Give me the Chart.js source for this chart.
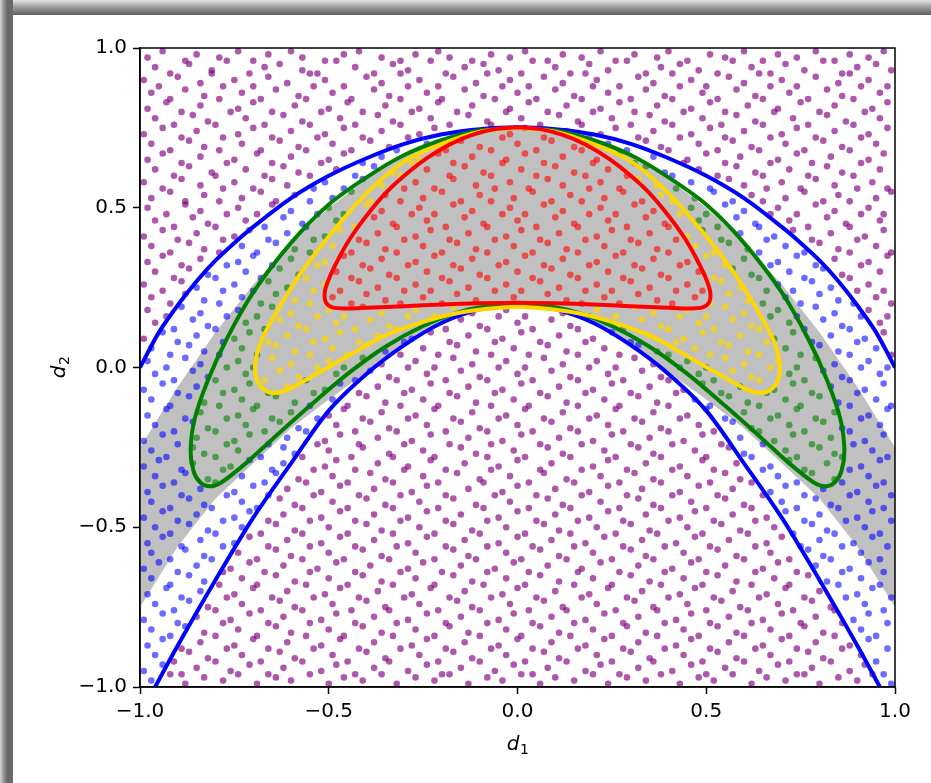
<!DOCTYPE html>
<html>
<head>
<meta charset="utf-8">
<script src="https://cdn.jsdelivr.net/npm/chart.js@4.4.0/dist/chart.umd.min.js"></script>
<style>
  html, body { margin: 0; padding: 0; background: #fff; }
  #frame { position: relative; width: 931px; height: 783px; overflow: hidden; background: #fff; }
  .edgeTop { position: absolute; left: 0; top: 0; width: 931px; height: 15px;
             background: linear-gradient(to bottom, #e4e4e4, #a0a0a0 45%, #5e5e5e); }
  .edgeLeft { position: absolute; left: 0; top: 0; width: 13px; height: 783px;
              background: linear-gradient(to right, #d4d4d4, #8a8a8a 35%, #666 60%, #6a6a6a); }
  #chart { position: absolute; left: 0; top: 0; }
</style>
</head>
<body>
<div id="frame">
  <div class="edgeTop"></div>
  <div class="edgeLeft"></div>
  <canvas id="chart" width="931" height="783"></canvas>
</div>
<script>
// axis ticks and titles (base letter + subscript)
const xTicks = [-1, -0.5, 0, 0.5, 1];
const yTicks = [-1, -0.5, 0, 0.5, 1];
const xTitle = ['d', '1'];
const yTitle = ['d', '2'];

// outer blue boundaries (upper and lower)
const blueUpper = [[-1,0],[-0.95,0.11],[-0.9,0.195],[-0.85,0.27],[-0.8,0.335],[-0.75,0.39],[-0.7,0.44],[-0.6,0.53],[-0.5,0.6],[-0.4,0.655],[-0.3,0.7],[-0.2,0.73],[-0.1,0.746],[0,0.752],
  [0.1,0.746],[0.2,0.73],[0.3,0.7],[0.4,0.655],[0.5,0.6],[0.6,0.53],[0.7,0.44],[0.75,0.39],[0.8,0.335],[0.85,0.27],[0.9,0.195],[0.95,0.11],[1,0]];
const blueLower = [[-1,-1.09],[-0.96,-1],[-0.9,-0.87],[-0.8,-0.665],[-0.7,-0.47],[-0.6,-0.3],[-0.5,-0.135],[-0.4,-0.02],[-0.3,0.07],[-0.2,0.14],[-0.1,0.182],[0,0.198],
  [0.1,0.182],[0.2,0.14],[0.3,0.07],[0.4,-0.02],[0.5,-0.135],[0.6,-0.3],[0.7,-0.47],[0.8,-0.665],[0.9,-0.87],[0.96,-1],[1,-1.09]];

// closed contours
const greenLoop = [[0,0.75],[0.1,0.742],[0.2,0.712],[0.3,0.665],[0.4,0.595],[0.5,0.51],[0.6,0.39],[0.7,0.235],[0.77,0.09],[0.82,-0.04],[0.855,-0.16],[0.866,-0.26],[0.858,-0.325],[0.84,-0.36],[0.815,-0.372],[0.785,-0.36],[0.72,-0.3],[0.65,-0.225],[0.55,-0.12],[0.45,-0.02],[0.35,0.065],[0.25,0.13],[0.15,0.175],[0.05,0.197],[0,0.2],
  [-0.05,0.197],[-0.15,0.175],[-0.25,0.13],[-0.35,0.065],[-0.45,-0.02],[-0.55,-0.12],[-0.65,-0.225],[-0.72,-0.3],[-0.785,-0.36],[-0.815,-0.372],[-0.84,-0.36],[-0.858,-0.325],[-0.866,-0.26],[-0.855,-0.16],[-0.82,-0.04],[-0.77,0.09],[-0.7,0.235],[-0.6,0.39],[-0.5,0.51],[-0.4,0.595],[-0.3,0.665],[-0.2,0.712],[-0.1,0.742],[0,0.75]];
const yellowLoop = [[0,0.75],[0.1,0.738],[0.2,0.7],[0.3,0.645],[0.4,0.545],[0.5,0.41],[0.58,0.285],[0.64,0.17],[0.68,0.08],[0.695,0.01],[0.69,-0.04],[0.67,-0.07],[0.645,-0.08],[0.61,-0.07],[0.54,-0.025],[0.45,0.035],[0.36,0.095],[0.27,0.135],[0.18,0.165],[0.09,0.182],[0,0.19],
  [-0.09,0.182],[-0.18,0.165],[-0.27,0.135],[-0.36,0.095],[-0.45,0.035],[-0.54,-0.025],[-0.61,-0.07],[-0.645,-0.08],[-0.67,-0.07],[-0.69,-0.04],[-0.695,0.01],[-0.68,0.08],[-0.64,0.17],[-0.58,0.285],[-0.5,0.41],[-0.4,0.545],[-0.3,0.645],[-0.2,0.7],[-0.1,0.738],[0,0.75]];
const redLoop = [[0,0.752],[0.06,0.746],[0.12,0.728],[0.18,0.698],[0.24,0.655],[0.3,0.6],[0.35,0.545],[0.4,0.475],[0.44,0.41],[0.47,0.35],[0.495,0.29],[0.51,0.24],[0.508,0.205],[0.49,0.188],[0.45,0.185],[0.4,0.187],[0.3,0.192],[0.2,0.197],[0.1,0.201],[0,0.203],
  [-0.1,0.201],[-0.2,0.197],[-0.3,0.192],[-0.4,0.187],[-0.45,0.185],[-0.49,0.188],[-0.508,0.205],[-0.51,0.24],[-0.495,0.29],[-0.47,0.35],[-0.44,0.41],[-0.4,0.475],[-0.35,0.545],[-0.3,0.6],[-0.24,0.655],[-0.18,0.698],[-0.12,0.728],[-0.06,0.746],[0,0.752]];

// shaded band (upper edge left to right, lower edge right to left)
const grayBand = [[-1,-0.25],[-0.9,-0.06],[-0.8,0.11],[-0.7,0.26],[-0.6,0.39],[-0.5,0.5],[-0.4,0.59],[-0.3,0.66],[-0.2,0.71],[-0.1,0.74],[0,0.75],[0.1,0.74],[0.2,0.71],[0.3,0.66],[0.4,0.59],[0.5,0.5],[0.6,0.39],[0.7,0.26],[0.8,0.11],[0.9,-0.06],[1,-0.25],
  [1,-0.75],[0.9,-0.56],[0.8,-0.41],[0.7,-0.3],[0.6,-0.19],[0.5,-0.1],[0.4,-0.015],[0.3,0.075],[0.2,0.14],[0.1,0.18],[0,0.198],[-0.1,0.18],[-0.2,0.14],[-0.3,0.075],[-0.4,-0.015],[-0.5,-0.1],[-0.6,-0.19],[-0.7,-0.3],[-0.8,-0.41],[-0.9,-0.56],[-1,-0.75]];

// sample points, x,y pairs in hundredths
const samplePts = [
-98,97,-94,99,-88,96,-85,98,-79,97,-74,99,-70,96,-66,98,-60,99,-57,97,-51,96,-46,98,-42,99,-36,97,-31,96,-27,98,-21,99,-18,97,-12,96,-7,98,-2,97,2,99,8,96,12,98,17,97,22,99,26,96,31,98,37,97,40,99,45,96,51,98,55,97,60,99,65,96,69,98,74,97,79,99,84,96,88,98,93,97,97,99,
-96,94,-92,92,-87,95,-81,93,-77,96,-71,92,-67,94,-63,95,-57,93,-53,92,-48,96,-43,94,-38,92,-33,95,-29,93,-23,96,-19,92,-14,94,-9,95,-5,93,1,92,4,96,10,94,14,92,19,95,24,93,29,96,34,92,38,94,43,95,48,93,53,92,57,96,62,94,67,92,71,95,76,93,81,96,86,92,90,94,95,95,99,93,
-99,90,-95,88,-90,91,-84,89,-81,92,-75,90,-70,88,-66,91,-61,89,-55,92,-51,90,-46,88,-40,91,-36,89,-31,92,-26,90,-21,88,-17,91,-11,89,-8,92,-2,90,3,88,7,91,12,89,18,92,21,90,27,88,32,91,36,89,41,92,46,90,50,88,56,91,60,89,64,92,70,90,74,88,79,91,85,89,88,92,93,90,98,88,
-97,86,-92,84,-88,87,-83,85,-78,88,-73,86,-68,84,-64,87,-58,85,-54,88,-49,86,-44,84,-38,87,-34,85,-29,88,-24,86,-20,84,-14,87,-9,85,-4,88,0,86,5,84,10,87,15,85,20,88,24,86,30,84,34,87,39,85,43,88,49,86,53,84,58,87,63,85,67,88,72,86,77,84,82,87,86,85,91,88,96,86,
-98,81,-93,83,-89,80,-84,82,-79,84,-74,81,-70,83,-65,80,-59,82,-56,84,-50,81,-45,83,-41,80,-35,82,-31,84,-26,81,-21,83,-16,80,-12,82,-6,84,-2,81,3,83,8,80,13,82,17,84,22,81,27,83,31,80,37,82,41,84,46,81,51,83,55,80,61,82,65,84,69,81,75,83,80,80,84,82,89,84,94,81,98,83,
-96,78,-91,76,-86,79,-82,77,-76,80,-72,78,-67,76,-62,79,-57,77,-52,80,-47,78,-43,76,-37,79,-33,77,-28,80,-23,78,-18,76,-13,79,-8,77,-3,80,1,78,6,76,11,79,16,77,20,80,25,78,30,76,35,79,39,77,44,80,49,78,54,76,58,79,63,77,68,80,73,78,77,76,82,79,87,77,92,80,96,78,
-99,73,-94,75,-89,72,-85,74,-80,76,-74,73,-70,75,-65,72,-60,74,-55,76,-51,73,-46,75,-41,72,-36,74,-31,76,-26,73,-22,75,-16,72,-12,74,-7,76,-2,73,2,75,7,72,13,74,17,76,22,73,26,75,32,72,36,74,41,76,46,73,51,75,55,72,60,74,65,76,70,73,74,75,79,72,84,74,89,76,93,73,98,75,
-97,70,-92,68,-87,71,-83,69,-78,72,-73,70,-68,68,-63,71,-58,69,-53,72,-49,70,-44,68,-39,71,-34,69,-29,72,-24,70,-19,68,-15,71,-10,69,-4,72,0,70,5,68,9,71,15,69,19,72,24,70,29,68,34,71,38,69,43,72,48,70,53,68,57,71,62,69,67,72,71,70,76,68,81,71,86,69,91,72,95,70,
-98,65,-94,67,-89,64,-84,66,-79,68,-75,65,-69,67,-65,64,-60,66,-56,68,-50,65,-46,67,-41,64,-36,66,-32,68,-26,65,-21,67,-17,64,-12,66,-7,68,-3,65,2,67,7,64,12,66,17,68,21,65,27,67,31,64,36,66,40,68,45,65,50,67,55,64,59,66,64,68,69,65,74,67,78,64,83,66,88,68,93,65,97,67,
-96,62,-91,60,-87,63,-81,61,-77,64,-72,62,-67,60,-62,63,-58,61,-52,64,-48,62,-43,60,-38,63,-33,61,-28,64,-24,62,-18,60,-14,63,-9,61,-4,64,1,62,5,60,10,63,15,61,20,64,24,62,29,60,34,63,39,61,44,64,48,62,53,60,58,63,63,61,67,64,72,62,77,60,82,63,86,61,91,64,96,62,
-99,58,-94,56,-89,59,-84,57,-80,60,-75,58,-70,56,-65,59,-61,57,-55,60,-51,58,-46,56,-41,59,-36,57,-31,60,-27,58,-22,56,-17,59,-11,57,-7,60,-2,58,3,56,8,59,12,57,18,60,22,58,27,56,32,59,37,57,41,60,46,58,51,56,56,59,60,57,65,60,70,58,75,56,79,59,84,57,89,60,94,58,98,56,
-97,53,-92,55,-88,52,-83,54,-78,56,-73,53,-68,55,-64,52,-59,54,-54,56,-49,53,-44,55,-39,52,-35,54,-30,56,-25,53,-20,55,-15,52,-10,54,-6,56,-1,53,4,55,9,52,14,54,19,56,23,53,28,55,33,52,38,54,42,56,47,53,52,55,57,52,62,54,66,56,71,53,76,55,81,52,85,54,90,56,95,53,99,55,
-98,50,-93,48,-88,51,-84,49,-79,52,-74,50,-69,48,-65,51,-60,49,-55,52,-50,50,-46,48,-40,51,-36,49,-31,52,-26,50,-22,48,-17,51,-12,49,-7,52,-2,50,2,48,7,51,12,49,17,52,22,50,26,48,31,51,36,49,41,52,46,50,50,48,55,51,60,49,65,52,69,50,74,48,79,51,84,49,88,52,93,50,97,48,
-96,46,-91,44,-86,47,-82,45,-77,48,-72,46,-67,44,-62,47,-57,45,-53,48,-48,46,-43,44,-38,47,-33,45,-28,48,-24,46,-19,44,-14,47,-9,45,-4,48,0,46,5,44,10,47,15,45,19,48,24,46,29,44,34,47,39,45,43,48,48,46,53,44,58,47,63,45,67,48,72,46,77,44,82,47,87,45,91,48,96,46,
-99,41,-94,43,-90,40,-85,42,-80,44,-75,41,-71,43,-66,40,-61,42,-56,44,-51,41,-47,43,-42,40,-37,42,-32,44,-27,41,-23,43,-18,40,-13,42,-8,44,-3,41,1,43,6,40,11,42,16,44,21,41,25,43,30,40,35,42,40,44,45,41,49,43,54,40,59,42,64,44,68,41,73,43,78,40,83,42,88,44,92,41,97,43,
-97,38,-92,36,-87,39,-83,37,-78,40,-73,38,-69,36,-64,39,-59,37,-54,40,-49,38,-44,36,-40,39,-35,37,-30,40,-25,38,-20,36,-16,39,-11,37,-6,40,-1,38,4,36,8,39,13,37,18,40,23,38,28,36,32,39,37,37,42,40,47,38,52,36,56,39,61,37,66,40,71,38,76,36,80,39,85,37,90,40,95,38,99,36,
-98,33,-94,35,-89,32,-84,34,-79,36,-74,33,-70,35,-65,32,-60,34,-55,36,-51,33,-46,35,-41,32,-36,34,-32,36,-27,33,-22,35,-17,32,-12,34,-8,36,-3,33,2,35,7,32,12,34,16,36,21,33,26,35,31,32,36,34,40,36,45,33,50,35,55,32,60,34,64,36,69,33,74,35,79,32,84,34,88,36,93,33,98,35,
-96,30,-91,28,-87,31,-82,29,-77,32,-72,30,-68,28,-63,31,-58,29,-53,32,-48,30,-44,28,-39,31,-34,29,-29,32,-24,30,-20,28,-15,31,-10,29,-5,32,0,30,4,28,9,31,14,29,19,32,24,30,28,28,33,31,38,29,43,32,48,30,52,28,57,31,62,29,67,32,72,30,76,28,81,31,86,29,91,32,96,30,
-99,26,-94,24,-89,27,-85,25,-80,28,-75,26,-70,24,-66,27,-61,25,-56,28,-51,26,-47,24,-42,27,-37,25,-32,28,-27,26,-23,24,-18,27,-13,25,-8,28,-3,26,1,24,6,27,11,25,16,28,21,26,25,24,30,27,35,25,40,28,45,26,49,24,54,27,59,25,64,28,69,26,73,24,78,27,83,25,88,28,93,26,97,24,
-97,22,-92,20,-88,23,-83,21,-78,24,-73,22,-68,20,-64,23,-59,21,-54,24,-49,22,-44,20,-40,23,-35,21,-30,24,-25,22,-20,20,-16,23,-11,21,-6,24,-1,22,3,20,8,23,13,21,18,24,23,22,27,20,32,23,37,21,42,24,47,22,51,20,56,23,61,21,66,24,71,22,75,20,80,23,85,21,90,24,95,22,99,20,
-98,18,-93,16,-89,19,-84,17,-79,20,-74,18,-69,16,-65,19,-60,17,-55,20,-50,18,-46,16,-41,19,-36,17,-31,20,-27,18,-22,16,-17,19,-12,17,-7,20,-3,18,2,16,7,19,12,17,17,20,21,18,26,16,31,19,36,17,41,20,45,18,50,16,55,19,60,17,65,20,69,18,74,16,79,19,84,17,89,20,93,18,98,16,
-96,14,-91,12,-86,15,-82,13,-77,16,-72,14,-67,12,-63,15,-58,13,-53,16,-48,14,-43,12,-39,15,-34,13,-29,16,-24,14,-19,12,-15,15,-10,13,-5,16,0,14,4,12,9,15,14,13,19,16,24,14,28,12,33,15,38,13,43,16,48,14,52,12,57,15,62,13,67,16,72,14,76,12,81,15,86,13,91,16,96,14,
-99,9,-94,11,-90,8,-85,10,-80,12,-75,9,-71,11,-66,8,-61,10,-56,12,-51,9,-47,11,-42,8,-37,10,-32,12,-28,9,-23,11,-18,8,-13,10,-8,12,-4,9,1,11,6,8,11,10,16,12,20,9,25,11,30,8,35,10,40,12,44,9,49,11,54,8,59,10,64,12,68,9,73,11,78,8,83,10,88,12,92,9,97,11,
-97,6,-92,4,-87,7,-83,5,-78,8,-73,6,-69,4,-64,7,-59,5,-54,8,-49,6,-45,4,-40,7,-35,5,-30,8,-25,6,-21,4,-16,7,-11,5,-6,8,-1,6,3,4,8,7,13,5,18,8,23,6,27,4,32,7,37,5,42,8,47,6,51,4,56,7,61,5,66,8,71,6,75,4,80,7,85,5,90,8,95,6,99,4,
-98,2,-93,0,-88,3,-84,1,-79,4,-74,2,-70,0,-65,3,-60,1,-55,4,-50,2,-46,0,-41,3,-36,1,-31,4,-27,2,-22,0,-17,3,-12,1,-7,4,-3,2,2,0,7,3,12,1,16,4,21,2,26,0,31,3,36,1,40,4,45,2,50,0,55,3,60,1,64,4,69,2,74,0,79,3,84,1,88,4,93,2,98,0,
-96,-2,-91,-4,-86,-1,-82,-3,-77,0,-72,-2,-67,-4,-63,-1,-58,-3,-53,0,-48,-2,-43,-4,-39,-1,-34,-3,-29,0,-24,-2,-19,-4,-15,-1,-10,-3,-5,0,0,-2,4,-4,9,-1,14,-3,19,0,24,-2,28,-4,33,-1,38,-3,43,0,48,-2,52,-4,57,-1,62,-3,67,0,72,-2,76,-4,81,-1,86,-3,91,0,96,-2,
-99,-7,-94,-5,-90,-8,-85,-6,-80,-4,-75,-7,-71,-5,-66,-8,-61,-6,-56,-4,-51,-7,-47,-5,-42,-8,-37,-6,-32,-4,-28,-7,-23,-5,-18,-8,-13,-6,-8,-4,-4,-7,1,-5,6,-8,11,-6,16,-4,20,-7,25,-5,30,-8,35,-6,40,-4,44,-7,49,-5,54,-8,59,-6,64,-4,68,-7,73,-5,78,-8,83,-6,88,-4,92,-7,97,-5,
-97,-10,-92,-12,-87,-9,-83,-11,-78,-8,-73,-10,-69,-12,-64,-9,-59,-11,-54,-8,-49,-10,-45,-12,-40,-9,-35,-11,-30,-8,-25,-10,-21,-12,-16,-9,-11,-11,-6,-8,-1,-10,3,-12,8,-9,13,-11,18,-8,23,-10,27,-12,32,-9,37,-11,42,-8,47,-10,51,-12,56,-9,61,-11,66,-8,71,-10,75,-12,80,-9,85,-11,90,-8,95,-10,99,-12,
-98,-15,-93,-13,-88,-16,-84,-14,-79,-12,-74,-15,-70,-13,-65,-16,-60,-14,-55,-12,-50,-15,-46,-13,-41,-16,-36,-14,-31,-12,-27,-15,-22,-13,-17,-16,-12,-14,-7,-12,-3,-15,2,-13,7,-16,12,-14,16,-12,21,-15,26,-13,31,-16,36,-14,40,-12,45,-15,50,-13,55,-16,60,-14,64,-12,69,-15,74,-13,79,-16,84,-14,88,-12,93,-15,98,-13,
-96,-18,-91,-20,-86,-17,-82,-19,-77,-16,-72,-18,-67,-20,-63,-17,-58,-19,-53,-16,-48,-18,-43,-20,-39,-17,-34,-19,-29,-16,-24,-18,-19,-20,-15,-17,-10,-19,-5,-16,0,-18,4,-20,9,-17,14,-19,19,-16,24,-18,28,-20,33,-17,38,-19,43,-16,48,-18,52,-20,57,-17,62,-19,67,-16,72,-18,76,-20,81,-17,86,-19,91,-16,96,-18,
-99,-23,-94,-21,-90,-24,-85,-22,-80,-20,-75,-23,-71,-21,-66,-24,-61,-22,-56,-20,-51,-23,-47,-21,-42,-24,-37,-22,-32,-20,-28,-23,-23,-21,-18,-24,-13,-22,-8,-20,-4,-23,1,-21,6,-24,11,-22,16,-20,20,-23,25,-21,30,-24,35,-22,40,-20,44,-23,49,-21,54,-24,59,-22,64,-20,68,-23,73,-21,78,-24,83,-22,88,-20,92,-23,97,-21,
-97,-26,-93,-28,-86,-25,-83,-27,-77,-24,-74,-26,-68,-28,-62,-25,-59,-27,-53,-24,-50,-26,-44,-28,-41,-25,-34,-27,-30,-24,-25,-26,-22,-28,-15,-25,-11,-27,-7,-24,-1,-26,2,-28,8,-25,12,-27,17,-24,23,-26,26,-28,32,-25,36,-27,41,-24,47,-26,50,-28,56,-25,60,-27,65,-24,71,-26,74,-28,80,-25,84,-27,89,-24,94,-26,98,-28,
-99,-31,-95,-29,-89,-32,-86,-30,-80,-28,-76,-31,-71,-29,-65,-32,-62,-30,-57,-28,-51,-31,-48,-29,-43,-32,-37,-30,-33,-28,-29,-31,-23,-29,-19,-32,-14,-30,-8,-28,-5,-31,0,-29,6,-32,9,-30,14,-28,20,-31,24,-29,29,-32,34,-30,38,-28,43,-31,49,-29,52,-32,58,-30,62,-28,67,-31,72,-29,76,-32,82,-30,86,-28,91,-31,96,-29,
-96,-34,-91,-36,-88,-33,-82,-35,-78,-32,-73,-34,-67,-36,-64,-33,-58,-35,-54,-32,-49,-34,-45,-36,-39,-33,-35,-35,-30,-32,-25,-34,-21,-36,-16,-33,-10,-35,-7,-32,-2,-34,3,-36,7,-33,13,-35,17,-32,22,-34,27,-36,31,-33,36,-35,41,-32,45,-34,51,-36,55,-33,59,-35,65,-32,69,-34,74,-36,78,-33,84,-35,88,-32,93,-34,97,-36,
-98,-39,-94,-37,-89,-40,-84,-38,-80,-36,-75,-39,-70,-37,-66,-40,-61,-38,-56,-36,-52,-39,-47,-37,-42,-40,-38,-38,-33,-36,-28,-39,-24,-37,-19,-40,-13,-38,-9,-36,-4,-39,0,-37,5,-40,10,-38,15,-36,19,-39,24,-37,29,-40,33,-38,38,-36,43,-39,48,-37,53,-40,57,-38,62,-36,67,-39,71,-37,76,-40,81,-38,86,-36,90,-39,95,-37,99,-40,
-97,-42,-92,-44,-87,-41,-83,-43,-77,-40,-73,-42,-69,-44,-63,-41,-59,-43,-54,-40,-49,-42,-45,-44,-40,-41,-35,-43,-31,-40,-26,-42,-21,-44,-17,-41,-11,-43,-6,-40,-2,-42,3,-44,8,-41,12,-43,17,-40,22,-42,27,-44,32,-41,36,-43,41,-40,46,-42,50,-44,55,-41,60,-43,65,-40,70,-42,74,-44,79,-41,83,-43,88,-40,93,-42,97,-44,
-99,-47,-94,-45,-90,-48,-85,-46,-81,-44,-75,-47,-71,-45,-66,-48,-62,-46,-57,-44,-52,-47,-47,-45,-43,-48,-38,-46,-33,-44,-29,-47,-24,-45,-19,-48,-15,-46,-9,-44,-5,-47,0,-45,5,-48,10,-46,14,-44,19,-47,24,-45,28,-48,34,-46,38,-44,43,-47,47,-45,52,-48,57,-46,62,-44,66,-47,71,-45,76,-48,80,-46,85,-44,90,-47,94,-45,99,-48,
-96,-50,-92,-52,-87,-49,-82,-51,-78,-48,-73,-50,-68,-52,-64,-49,-59,-51,-55,-48,-50,-50,-45,-52,-40,-49,-36,-51,-31,-48,-26,-50,-22,-52,-17,-49,-12,-51,-8,-48,-3,-50,2,-52,7,-49,11,-51,16,-48,21,-50,26,-52,30,-49,35,-51,40,-48,45,-50,49,-52,54,-49,59,-51,63,-48,68,-50,73,-52,78,-49,82,-51,87,-48,92,-50,96,-52,
-98,-55,-94,-53,-89,-56,-84,-54,-80,-52,-75,-55,-71,-53,-66,-56,-61,-54,-57,-52,-52,-55,-47,-53,-43,-56,-38,-54,-33,-52,-29,-55,-24,-53,-19,-56,-14,-54,-10,-52,-5,-55,0,-53,4,-56,9,-54,14,-52,18,-55,23,-53,28,-56,33,-54,37,-52,42,-55,47,-53,51,-56,56,-54,61,-52,66,-55,70,-53,75,-56,80,-54,84,-52,89,-55,94,-53,98,-56,
-97,-58,-92,-60,-88,-57,-83,-59,-78,-56,-74,-58,-69,-60,-64,-57,-60,-59,-55,-56,-50,-58,-46,-60,-41,-57,-36,-59,-32,-56,-27,-58,-22,-60,-17,-57,-13,-59,-8,-56,-3,-58,1,-60,6,-57,11,-59,15,-56,20,-58,25,-60,30,-57,34,-59,39,-56,44,-58,48,-60,53,-57,58,-59,63,-56,67,-58,72,-60,77,-57,81,-59,86,-56,91,-58,96,-60,
-99,-63,-95,-61,-90,-64,-85,-62,-81,-60,-76,-63,-71,-61,-67,-64,-62,-62,-57,-60,-53,-63,-48,-61,-43,-64,-39,-62,-34,-60,-29,-63,-25,-61,-20,-64,-15,-62,-11,-60,-6,-63,-1,-61,3,-64,8,-62,13,-60,17,-63,22,-61,27,-64,32,-62,36,-60,41,-63,46,-61,50,-64,55,-62,60,-60,65,-63,69,-61,74,-64,79,-62,83,-60,88,-63,93,-61,97,-64,
-97,-66,-92,-68,-87,-65,-83,-67,-78,-64,-73,-66,-69,-68,-64,-65,-59,-67,-55,-64,-50,-66,-45,-68,-41,-65,-36,-67,-31,-64,-27,-66,-22,-68,-17,-65,-12,-67,-8,-64,-3,-66,2,-68,6,-65,11,-67,16,-64,20,-66,25,-68,30,-65,35,-67,39,-64,44,-66,49,-68,53,-65,58,-67,63,-64,68,-66,72,-68,77,-65,82,-67,86,-64,91,-66,96,-68,
-98,-71,-93,-69,-89,-72,-84,-70,-79,-68,-75,-71,-70,-69,-65,-72,-61,-70,-56,-68,-51,-71,-47,-69,-42,-72,-37,-70,-33,-68,-28,-71,-23,-69,-18,-72,-14,-70,-9,-68,-4,-71,0,-69,5,-72,10,-70,15,-68,19,-71,24,-69,29,-72,33,-70,38,-68,43,-71,47,-69,52,-72,57,-70,62,-68,66,-71,71,-69,76,-72,80,-70,85,-68,90,-71,94,-69,99,-72,
-96,-74,-91,-76,-87,-73,-82,-75,-77,-72,-73,-74,-68,-76,-63,-73,-59,-75,-54,-72,-49,-74,-44,-76,-40,-73,-35,-75,-30,-72,-26,-74,-21,-76,-16,-73,-12,-75,-7,-72,-2,-74,3,-76,7,-73,12,-75,17,-72,21,-74,26,-76,31,-73,36,-75,40,-72,45,-74,50,-76,54,-73,59,-75,64,-72,69,-74,73,-76,78,-73,83,-75,87,-72,92,-74,97,-76,
-99,-79,-94,-77,-90,-80,-85,-78,-80,-76,-76,-79,-71,-77,-66,-80,-62,-78,-57,-76,-52,-79,-48,-77,-43,-80,-38,-78,-34,-76,-29,-79,-24,-77,-19,-80,-15,-78,-10,-76,-5,-79,-1,-77,4,-80,9,-78,13,-76,18,-79,23,-77,28,-80,32,-78,37,-76,42,-79,46,-77,51,-80,56,-78,61,-76,65,-79,70,-77,75,-80,79,-78,84,-76,89,-79,93,-77,98,-80,
-97,-82,-92,-84,-88,-81,-83,-83,-78,-80,-74,-82,-69,-84,-64,-81,-60,-83,-55,-80,-50,-82,-46,-84,-41,-81,-36,-83,-32,-80,-27,-82,-22,-84,-18,-81,-13,-83,-8,-80,-3,-82,1,-84,6,-81,11,-83,15,-80,20,-82,25,-84,29,-81,34,-83,39,-80,44,-82,48,-84,53,-81,58,-83,62,-80,67,-82,72,-84,76,-81,81,-83,86,-80,91,-82,95,-84,
-98,-87,-94,-85,-89,-88,-84,-86,-80,-84,-75,-87,-70,-85,-66,-88,-61,-86,-56,-84,-52,-87,-47,-85,-42,-88,-38,-86,-33,-84,-28,-87,-24,-85,-19,-88,-14,-86,-10,-84,-5,-87,0,-85,4,-88,9,-86,14,-84,18,-87,23,-85,28,-88,32,-86,37,-84,42,-87,46,-85,51,-88,56,-86,60,-84,65,-87,70,-85,74,-88,79,-86,84,-84,88,-87,93,-85,98,-88,
-96,-90,-91,-92,-87,-89,-82,-91,-77,-88,-73,-90,-68,-92,-63,-89,-59,-91,-54,-88,-49,-90,-45,-92,-40,-89,-35,-91,-31,-88,-26,-90,-21,-92,-17,-89,-12,-91,-7,-88,-3,-90,2,-92,7,-89,11,-91,16,-88,21,-90,25,-92,30,-89,35,-91,39,-88,44,-90,49,-92,53,-89,58,-91,63,-88,67,-90,72,-92,77,-89,81,-91,86,-88,91,-90,95,-92,
-99,-95,-94,-93,-89,-96,-85,-94,-80,-92,-76,-95,-71,-93,-66,-96,-62,-94,-57,-92,-52,-95,-48,-93,-43,-96,-38,-94,-34,-92,-29,-95,-24,-93,-20,-96,-15,-94,-10,-92,-6,-95,-1,-93,4,-96,8,-94,13,-92,18,-95,22,-93,27,-96,32,-94,36,-92,41,-95,46,-93,50,-96,55,-94,60,-92,64,-95,69,-93,74,-96,78,-94,83,-92,88,-95,92,-93,97,-96,
-97,-98,-92,-96,-88,-99,-83,-97,-78,-98,-74,-96,-69,-99,-64,-97,-60,-98,-55,-96,-50,-99,-46,-97,-41,-98,-36,-96,-32,-99,-27,-97,-22,-98,-18,-96,-13,-99,-8,-97,-4,-98,1,-96,6,-99,10,-97,15,-98,20,-96,24,-99,29,-97,34,-98,38,-96,43,-99,48,-97,52,-98,57,-96,62,-99,66,-97,71,-98,76,-96,80,-99,85,-97,90,-98,94,-96,99,-99
];

function yAt(curve, x) {
  for (let i = 1; i < curve.length; i++) {
    const [x0, y0] = curve[i - 1], [x1, y1] = curve[i];
    if (x <= x1) return y0 + (y1 - y0) * (x - x0) / (x1 - x0);
  }
  return curve[curve.length - 1][1];
}

function inside(poly, x, y) {
  let hit = false;
  for (let i = 0, j = poly.length - 1; i < poly.length; j = i++) {
    const [xi, yi] = poly[i], [xj, yj] = poly[j];
    if ((yi > y) !== (yj > y) && x < (xj - xi) * (y - yi) / (yj - yi) + xi) hit = !hit;
  }
  return hit;
}

// sort the samples by the region they fall in
const groups = { purple: [], blue: [], green: [], gold: [], red: [] };
for (let i = 0; i < samplePts.length; i += 2) {
  const x = samplePts[i] / 100, y = samplePts[i + 1] / 100;
  let g = 'purple';
  if (inside(redLoop, x, y)) g = 'red';
  else if (inside(yellowLoop, x, y)) g = 'gold';
  else if (inside(greenLoop, x, y)) g = 'green';
  else if (y < yAt(blueUpper, x) && y > yAt(blueLower, x)) g = 'blue';
  groups[g].push({ x, y });
}

const toXY = arr => arr.map(([x, y]) => ({ x, y }));

const dotColors = {
  purple: 'rgba(128,0,128,0.65)',
  blue: 'rgba(0,0,255,0.58)',
  green: 'rgba(0,128,0,0.6)',
  gold: 'rgba(255,215,0,0.7)',
  red: 'rgba(255,0,0,0.6)'
};

function dots(name) {
  return {
    type: 'scatter', data: groups[name], order: 5,
    pointRadius: 3.3, pointBorderWidth: 0, pointBackgroundColor: dotColors[name],
    clip: 0
  };
}

function curve(points, color, order) {
  return {
    type: 'line', data: toXY(points), order,
    borderColor: color, borderWidth: 4, pointRadius: 0,
    tension: 0.3, fill: false, clip: 0
  };
}

const datasets = [
  { type: 'line', data: toXY(grayBand), order: 10, borderWidth: 0, pointRadius: 0,
    backgroundColor: '#c0c0c0', fill: 'shape', tension: 0, clip: 0 },
  dots('purple'), dots('blue'), dots('green'), dots('gold'), dots('red'),
  curve(blueUpper, '#0000ff', 4),
  curve(blueLower, '#0000ff', 4),
  curve(greenLoop, '#008000', 3),
  curve(yellowLoop, '#ffd700', 2),
  curve(redLoop, '#ff0000', 1)
];

const fmt = v => (v < 0 ? '\u2212' : '') + Math.abs(v).toFixed(1);
const tickFont = { family: 'DejaVu Sans', size: 20 };

// black box around the plot area
const frameBox = {
  id: 'frameBox',
  afterDraw(chart) {
    const { ctx, chartArea: a } = chart;
    ctx.save();
    ctx.strokeStyle = '#000';
    ctx.lineWidth = 1.5;
    ctx.strokeRect(a.left, a.top, a.right - a.left, a.bottom - a.top);
    ctx.restore();
  }
};

// axis titles: italic letter with an upright subscript
function drawSubTitle(ctx, parts, cx, cy, angle) {
  ctx.save();
  ctx.translate(cx, cy);
  ctx.rotate(angle);
  ctx.fillStyle = '#000';
  ctx.textBaseline = 'alphabetic';
  ctx.font = 'italic 20px "DejaVu Sans"';
  const w1 = ctx.measureText(parts[0]).width;
  ctx.font = '14px "DejaVu Sans"';
  const w2 = ctx.measureText(parts[1]).width;
  const x0 = -(w1 + w2) / 2;
  ctx.font = 'italic 20px "DejaVu Sans"';
  ctx.fillText(parts[0], x0, 7);
  ctx.font = '14px "DejaVu Sans"';
  ctx.fillText(parts[1], x0 + w1 + 0.5, 11);
  ctx.restore();
}

const axisTitles = {
  id: 'axisTitles',
  afterDraw(chart) {
    const { ctx, chartArea: a } = chart;
    drawSubTitle(ctx, xTitle, (a.left + a.right) / 2, 743, 0);
    drawSubTitle(ctx, yTitle, 58, (a.top + a.bottom) / 2, -Math.PI / 2);
  }
};

new Chart(document.getElementById('chart'), {
  type: 'scatter',
  data: { datasets },
  options: {
    responsive: false,
    animation: false,
    devicePixelRatio: 1,
    layout: { padding: { top: 48, right: 36, left: 0, bottom: 0 } },
    plugins: { legend: { display: false }, tooltip: { enabled: false } },
    scales: {
      x: {
        type: 'linear', min: -1, max: 1,
        afterFit: s => { s.height = 96; },
        afterBuildTicks: s => { s.ticks = xTicks.map(v => ({ value: v })); },
        ticks: { callback: fmt, font: tickFont, color: '#000', padding: 6, maxRotation: 0 },
        grid: { drawOnChartArea: false, tickLength: 7, tickColor: '#000', tickWidth: 1.5 },
        border: { color: '#000', width: 1.5 }
      },
      y: {
        type: 'linear', min: -1, max: 1,
        afterFit: s => { s.width = 140; },
        afterBuildTicks: s => { s.ticks = yTicks.map(v => ({ value: v })); },
        ticks: { callback: fmt, font: tickFont, color: '#000', padding: 6 },
        grid: { drawOnChartArea: false, tickLength: 7, tickColor: '#000', tickWidth: 1.5 },
        border: { color: '#000', width: 1.5 }
      }
    }
  },
  plugins: [frameBox, axisTitles]
});
</script>
</body>
</html>
